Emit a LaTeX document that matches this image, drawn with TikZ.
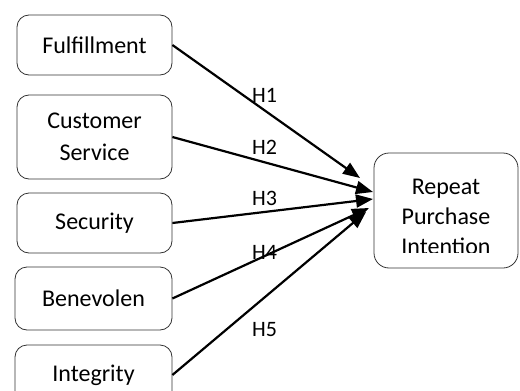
\documentclass[tikz,border=0pt]{standalone}
\usepackage{fontspec}
\setmainfont{Carlito}
\usetikzlibrary{positioning, arrows.meta}

\begin{document}
\begin{tikzpicture}[
    x=1pt, y=-1pt,
    box/.style={
        rectangle,
        rounded corners=12pt,
        draw=black!80,
        line width=0.8pt,
        minimum width=155pt,
        minimum height=60pt,
        inner sep=0pt,
        align=center,
        font=\fontsize{24}{32}\selectfont
    },
    rightbox/.style={box, rounded corners=15pt, minimum width=144pt, minimum height=115pt},
    hyp/.style={anchor=west, inner sep=0pt, font=\fontsize{22}{26}\selectfont},
    arrow/.style={-{Triangle[length=17pt, width=13pt]}, line width=2.2pt, draw=black}
]
\clip (0,0) rectangle (520,391);

% predictors
\node[box] (ful) at (94.5, 45) {Fulfillment};
\node[box, minimum height=84pt] (cs) at (94.5, 137) {Customer\\Service};
\node[box] (sec) at (94.5, 223) {Security};
\node[box, minimum width=157pt, minimum height=63pt] (ben) at (93.5, 298.5) {Benevolen};
\node[box, minimum width=157pt] (intg) at (93.5, 375) {Integrity};

% outcome
\node[rightbox] (rpi) at (446, 210.5) {};
\begin{scope}
    \clip (374, 150) rectangle (518, 252);
    \node[align=center, inner sep=0pt, font=\fontsize{24}{30}\selectfont] (rpitext) at (446, 217) {Repeat\\Purchase\\Intention};
\end{scope}

\coordinate (tip1) at (360, 178);
\coordinate (tip2) at (373, 192);
\coordinate (tip3) at (373, 199);
\coordinate (tip4) at (369, 208);
\coordinate (tip5) at (366, 212);

\draw[arrow] (ful.east) -- (tip1);
\draw[arrow] (cs.east) -- (tip2);
\draw[arrow] (sec.east) -- (tip3);
\draw[arrow] (ben.east) -- (tip4);
\draw[arrow] (intg.east) -- (tip5);

\node[hyp] (h1) at (252, 95) {H1};
\node[hyp] (h2) at (252, 147) {H2};
\node[hyp] (h3) at (252, 198) {H3};
\node[hyp] (h4) at (252, 252) {H4};
\node[hyp] (h5) at (252, 330) {H5};

\end{tikzpicture}
\end{document}
